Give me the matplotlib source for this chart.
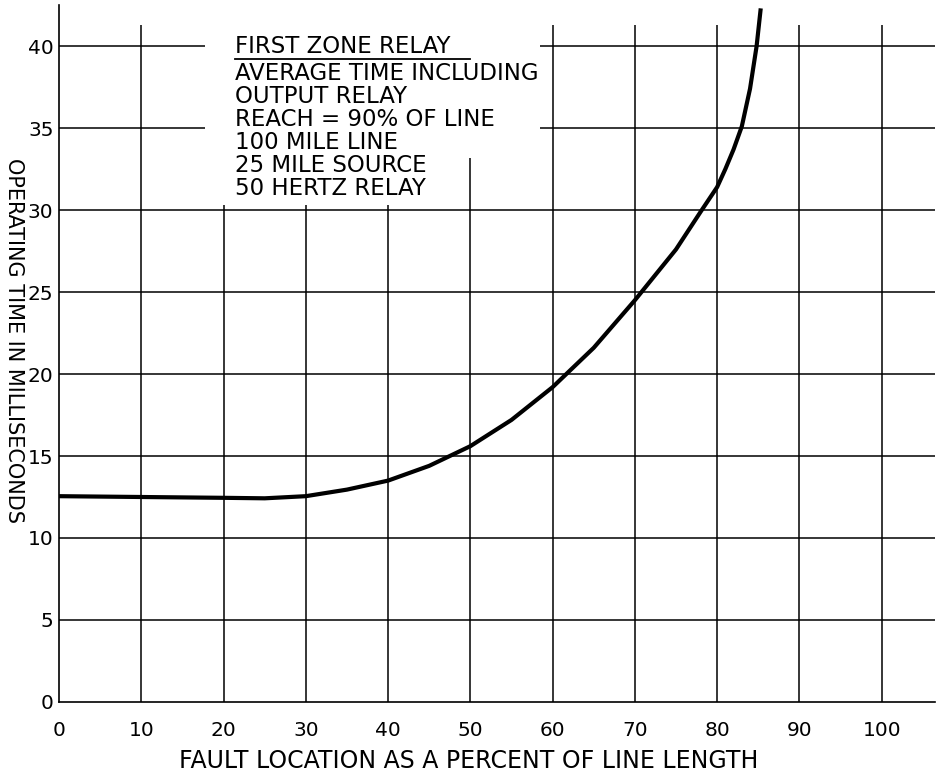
"""Operating time of first zone relay vs fault location (scanned chart redraw)."""
import matplotlib
matplotlib.use("Agg")
import matplotlib.pyplot as plt
import matplotlib.patches as mpatches

# ── data ─────────────────────────────────────────────────────
fault_pct = [0, 10, 20, 25, 30, 35, 40, 45, 50, 55, 60, 65, 70, 75,
             78, 80, 81, 82, 83, 84, 84.8, 85.3]
op_time_ms = [12.55, 12.5, 12.45, 12.42, 12.55, 12.95, 13.5, 14.4, 15.6, 17.2,
              19.2, 21.6, 24.5, 27.6, 29.9, 31.4, 32.5, 33.7, 35.1, 37.4,
              40.0, 42.3]

x_ticks = [0, 10, 20, 30, 40, 50, 60, 70, 80, 90, 100]
y_ticks = [0, 5, 10, 15, 20, 25, 30, 35, 40]

notes = ["AVERAGE TIME INCLUDING", "OUTPUT RELAY", "REACH = 90% OF LINE",
         "100 MILE LINE", "25 MILE SOURCE", "50 HERTZ RELAY"]
title = "FIRST ZONE RELAY"

FS = 14.5      # tick labels
FS_NOTE = 16.5
FS_XLAB = 17
FS_YLAB = 15

fig = plt.figure(figsize=(9.37, 7.83), dpi=100)
ax = fig.add_axes([0.063, 0.1035, 0.935, 0.890])
ax.set_xlim(0, 106.5)
ax.set_ylim(0, 42.5)

for s in ["top", "right"]:
    ax.spines[s].set_visible(False)
for s in ["left", "bottom"]:
    ax.spines[s].set_linewidth(1.2)

# grid drawn by hand so verticals stop short of the top like the scan
ax.vlines(x_ticks[1:], 0, 41.3, color="black", lw=1.1, zorder=1)
ax.hlines(y_ticks[1:], 0, 106.5, color="black", lw=1.1, zorder=1)

# white patch behind the note block hides the grid there
for (x0, y0, w, h) in [(17.8, 33.2, 40.7, 10), (17.8, 30.3, 31.7, 3.0)]:
    ax.add_patch(mpatches.Rectangle((x0, y0), w, h, facecolor="white",
                                    edgecolor="none", zorder=2))

ax.plot(fault_pct, op_time_ms, color="black", lw=3.0, zorder=3,
        solid_capstyle="butt", solid_joinstyle="round")

ax.set_xticks(x_ticks)
ax.set_yticks(y_ticks)
ax.tick_params(length=0, labelsize=FS)
ax.tick_params(axis="x", pad=14)
ax.tick_params(axis="y", pad=4)

# note block
tx = 21.4
ax.text(tx, 39.95, title, fontsize=FS_NOTE, va="center", ha="left", zorder=4)
ax.plot([tx, 50.0], [39.2, 39.2], color="black", lw=1.3, zorder=4)
for i, t in enumerate(notes):
    ax.text(tx, 38.35 - i * 1.41, t, fontsize=FS_NOTE, va="center",
            ha="left", zorder=4)

fig.text(0.50, 0.028, "FAULT LOCATION AS A PERCENT OF LINE LENGTH",
         fontsize=FS_XLAB, ha="center", va="center")
fig.text(0.015, 0.565, "OPERATING TIME IN MILLISECONDS", fontsize=FS_YLAB,
         ha="center", va="center", rotation=270)

fig.savefig("out.png", dpi=100, facecolor="white")
